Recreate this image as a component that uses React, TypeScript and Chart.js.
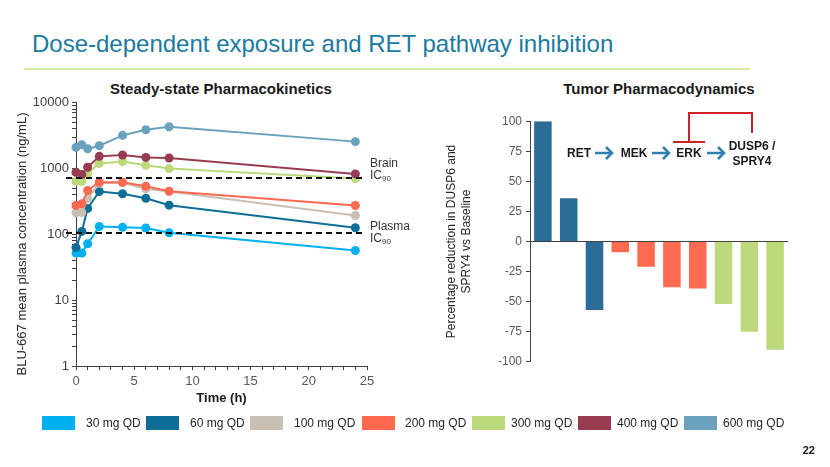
import React, { useEffect, useRef } from 'react';
import { Chart, registerables } from 'chart.js';

Chart.register(...registerables);

const FONT = '"Liberation Sans", Arial, Helvetica, sans-serif';

// ---------- Pharmacokinetics data ----------
const TIME_H = [0, 0.5, 1, 2, 4, 6, 8, 24];
const DOSES = ['30 mg QD', '60 mg QD', '100 mg QD', '200 mg QD', '300 mg QD', '400 mg QD', '600 mg QD'];
const DOSE_COLORS = ['#00b0f0', '#0f6e98', '#c8bfb5', '#ff6950', '#bcd97b', '#973b51', '#6aa1bc'];
const CONC_30 = [52, 52, 72, 132, 128, 125, 106, 57];
const CONC_60 = [63, 111, 248, 448, 414, 355, 278, 126];
const CONC_100 = [213, 215, 348, 600, 610, 492, 450, 194];
const CONC_200 = [275, 292, 464, 620, 620, 540, 453, 275];
const CONC_300 = [642, 642, 849, 1200, 1280, 1120, 1000, 705];
const CONC_400 = [880, 810, 1050, 1535, 1610, 1480, 1450, 830];
const CONC_600 = [2100, 2300, 2000, 2230, 3200, 3900, 4330, 2570];
const CONC_BY_DOSE = [CONC_30, CONC_60, CONC_100, CONC_200, CONC_300, CONC_400, CONC_600];
const BRAIN_IC90 = 730;
const PLASMA_IC90 = 105;
const PK_X_TICKS = [0, 1, 2, 3, 4, 5, 6, 7, 8, 9, 10, 11, 12, 13, 14, 15, 16, 17, 18, 19, 20, 21, 22, 23, 24, 25];
const PK_X_LABELS = [0, 5, 10, 15, 20, 25];
const PK_Y_MAJOR = [1, 10, 100, 1000, 10000];
const PK_Y_TICKS = [
  1, 2, 3, 4, 5, 6, 7, 8, 9,
  10, 20, 30, 40, 50, 60, 70, 80, 90,
  100, 200, 300, 400, 500, 600, 700, 800, 900,
  1000, 2000, 3000, 4000, 5000, 6000, 7000, 8000, 9000,
  10000,
];

// ---------- Pharmacodynamics data ----------
const PD_PATIENTS = ['Pt 1', 'Pt 2', 'Pt 3', 'Pt 4', 'Pt 5', 'Pt 6', 'Pt 7', 'Pt 8', 'Pt 9', 'Pt 10'];
const PD_DOSE = ['60 mg QD', '60 mg QD', '60 mg QD', '200 mg QD', '200 mg QD', '200 mg QD', '200 mg QD', '300 mg QD', '300 mg QD', '300 mg QD'];
const PD_REDUCTION = [100, 36, -57, -9, -21, -38, -39, -52, -75, -90];
const PD_BAR_COLORS: Record<string, string> = {
  '60 mg QD': '#2a6d96',
  '200 mg QD': '#ff6a50',
  '300 mg QD': '#bdd97b',
};
const PD_TICKS = [100, 75, 50, 25, 0, -25, -50, -75, -100];

const AXIS = '#404040';
const TICK_TEXT = '#595959';

const icLinesPlugin = {
  id: 'icLines',
  afterDatasetsDraw(chart: any) {
    const { ctx, chartArea, scales } = chart;
    ctx.save();
    ctx.setLineDash([6, 4]);
    ctx.lineWidth = 2;
    ctx.strokeStyle = '#111111';
    [BRAIN_IC90, PLASMA_IC90].forEach((v) => {
      const y = Math.round(scales.y.getPixelForValue(v));
      ctx.beginPath();
      ctx.moveTo(chartArea.left - 10, y);
      ctx.lineTo(chartArea.right - 3, y);
      ctx.stroke();
    });
    ctx.restore();
  },
};

export default function App() {
  const pkRef = useRef<HTMLCanvasElement>(null);
  const pdRef = useRef<HTMLCanvasElement>(null);

  useEffect(() => {
    document.body.style.margin = '0';
    const pk = new Chart(pkRef.current as HTMLCanvasElement, {
      type: 'line',
      data: {
        datasets: DOSES.map((d, i) => ({
          label: d,
          data: TIME_H.map((t, j) => ({ x: t, y: CONC_BY_DOSE[i][j] })),
          borderColor: DOSE_COLORS[i],
          backgroundColor: DOSE_COLORS[i],
          borderWidth: 2,
          pointRadius: 4.5,
          pointBorderWidth: 0,
          pointHoverRadius: 4.5,
          tension: 0,
          clip: false as any,
          order: DOSES.length - i,
        })),
      },
      options: {
        responsive: false,
        animation: false,
        events: [],
        layout: { padding: { left: 12, top: 10, right: 33, bottom: 0 } },
        plugins: { legend: { display: false }, tooltip: { enabled: false }, title: { display: false } },
        scales: {
          x: {
            type: 'linear',
            min: 0,
            max: 25,
            afterBuildTicks: (s: any) => {
              s.ticks = PK_X_TICKS.map((v) => ({ value: v }));
            },
            afterFit: (s: any) => {
              s.height = 44;
            },
            grid: { display: true, drawOnChartArea: false, drawTicks: true, tickLength: 4, color: AXIS, tickColor: AXIS },
            border: { display: true, color: AXIS, width: 1 },
            ticks: {
              autoSkip: false,
              maxRotation: 0,
              padding: 4,
              color: TICK_TEXT,
              font: { family: FONT, size: 13 },
              callback: (v: any) => (PK_X_LABELS.includes(Number(v)) ? String(v) : ''),
            },
            title: {
              display: true,
              text: 'Time (h)',
              color: '#1a1a1a',
              font: { family: FONT, size: 13, weight: 'bold' },
              padding: { top: 0, bottom: 4 },
            },
          },
          y: {
            type: 'logarithmic',
            min: 1,
            max: 10000,
            afterBuildTicks: (s: any) => {
              s.ticks = PK_Y_TICKS.map((v) => ({ value: v }));
            },
            afterFit: (s: any) => {
              s.width = 64;
            },
            grid: { display: true, drawOnChartArea: false, drawTicks: true, tickLength: 4, color: AXIS, tickColor: AXIS },
            border: { display: true, color: AXIS, width: 1 },
            ticks: {
              autoSkip: false,
              padding: 3,
              color: '#404040',
              font: { family: FONT, size: 13 },
              callback: (v: any) => (PK_Y_MAJOR.includes(Number(v)) ? String(v) : ''),
            },
            title: { display: false },
          },
        },
      } as any,
      plugins: [icLinesPlugin],
    });

    const pd = new Chart(pdRef.current as HTMLCanvasElement, {
      type: 'bar',
      data: {
        labels: PD_PATIENTS,
        datasets: [
          {
            label: 'Reduction',
            data: PD_REDUCTION,
            backgroundColor: PD_DOSE.map((d) => PD_BAR_COLORS[d]),
            borderWidth: 0,
            barPercentage: 0.68,
            categoryPercentage: 1,
          },
        ],
      },
      options: {
        responsive: false,
        animation: false,
        events: [],
        layout: { padding: { left: 0, top: 11, right: 12, bottom: 10 } },
        plugins: { legend: { display: false }, tooltip: { enabled: false } },
        scales: {
          x: { display: false },
          y: {
            min: -100,
            max: 100,
            afterBuildTicks: (s: any) => {
              s.ticks = PD_TICKS.map((v) => ({ value: v }));
            },
            afterFit: (s: any) => {
              s.width = 90;
            },
            grid: {
              display: true,
              drawOnChartArea: true,
              drawTicks: true,
              tickLength: 4,
              lineWidth: 1,
              color: (c: any) => (c.tick && c.tick.value === 0 ? AXIS : 'rgba(0,0,0,0)'),
              tickColor: AXIS,
            },
            border: { display: true, color: AXIS, width: 1 },
            ticks: { autoSkip: false, padding: 4, color: TICK_TEXT, font: { family: FONT, size: 12 } },
            title: {
              display: true,
              text: ['Percentage reduction in DUSP6 and', 'SPRY4 vs Baseline'],
              color: '#262626',
              font: { family: FONT, size: 12, lineHeight: 1.25 },
              padding: { top: 4, bottom: 4 },
            },
          },
        },
      } as any,
    });

    return () => {
      pk.destroy();
      pd.destroy();
    };
  }, []);

  const legendBoxX = [42, 146, 250, 362, 472, 578, 684];
  const legendTextX = [86, 190, 294, 405, 511, 617, 723];

  const pathwayText: React.CSSProperties = {
    position: 'absolute',
    fontFamily: FONT,
    fontWeight: 'bold',
    fontSize: 12,
    lineHeight: '14px',
    color: '#1a1a1a',
    whiteSpace: 'nowrap',
    textAlign: 'center',
  };

  const arrows = [
    [595, 612],
    [652, 669],
    [707, 724],
  ];

  return (
    <div
      style={{
        position: 'fixed',
        left: 0,
        top: 0,
        width: 830,
        height: 467,
        background: '#ffffff',
        overflow: 'hidden',
        fontFamily: FONT,
      }}
    >
      <div
        style={{
          position: 'absolute',
          left: 32,
          top: 30,
          fontSize: 24,
          lineHeight: '28px',
          color: '#1b7aa0',
          whiteSpace: 'nowrap',
        }}
      >
        Dose-dependent exposure and RET pathway inhibition
      </div>
      <div style={{ position: 'absolute', left: 24, top: 68, width: 726, height: 2, background: '#d6eca0' }} />

      <div
        style={{
          position: 'absolute',
          left: 71,
          width: 300,
          top: 80,
          fontSize: 15,
          fontWeight: 'bold',
          lineHeight: '18px',
          textAlign: 'center',
          color: '#1a1a1a',
        }}
      >
        Steady-state Pharmacokinetics
      </div>
      <div
        style={{
          position: 'absolute',
          left: 509,
          width: 300,
          top: 80,
          fontSize: 15,
          fontWeight: 'bold',
          lineHeight: '18px',
          textAlign: 'center',
          color: '#1a1a1a',
        }}
      >
        Tumor Pharmacodynamics
      </div>

      <canvas
        ref={pkRef}
        width={400}
        height={318}
        style={{ position: 'absolute', left: 0, top: 92, width: 400, height: 318 }}
      />
      <div
        style={{
          position: 'absolute',
          left: 22 - 150,
          top: 244 - 8,
          width: 300,
          height: 16,
          lineHeight: '16px',
          fontSize: 13,
          textAlign: 'center',
          color: '#262626',
          transform: 'rotate(-90deg)',
          transformOrigin: '50% 50%',
          whiteSpace: 'nowrap',
        }}
      >
        BLU-667 mean plasma concentration (ng/mL)
      </div>

      <div style={{ position: 'absolute', left: 370, top: 157, fontSize: 12, lineHeight: '12px', color: '#333333' }}>
        Brain
        <br />
        IC<span style={{ fontSize: 8, position: 'relative', top: 2 }}>90</span>
      </div>
      <div style={{ position: 'absolute', left: 370, top: 220, fontSize: 12, lineHeight: '12px', color: '#333333' }}>
        Plasma
        <br />
        IC<span style={{ fontSize: 8, position: 'relative', top: 2 }}>90</span>
      </div>

      <canvas
        ref={pdRef}
        width={360}
        height={263}
        style={{ position: 'absolute', left: 440, top: 110, width: 360, height: 263 }}
      />

      <svg
        width={830}
        height={467}
        style={{ position: 'absolute', left: 0, top: 0, pointerEvents: 'none' }}
      >
        {arrows.map(([x1, x2], i) => (
          <g key={i} stroke="#2e80b0" strokeWidth={2.5} fill="none" strokeLinecap="butt">
            <line x1={x1} y1={153} x2={x2} y2={153} />
            <polyline points={`${x2 - 6},${147} ${x2},${153} ${x2 - 6},${159}`} />
          </g>
        ))}
        <polyline points="752,133 752,113 689,113 689,142" stroke="#d0202a" strokeWidth={2} fill="none" />
        <line x1={673} y1={142} x2={705} y2={142} stroke="#d0202a" strokeWidth={2} />
      </svg>
      <div style={{ ...pathwayText, left: 559, width: 40, top: 146 }}>RET</div>
      <div style={{ ...pathwayText, left: 614, width: 40, top: 146 }}>MEK</div>
      <div style={{ ...pathwayText, left: 669, width: 40, top: 146 }}>ERK</div>
      <div style={{ ...pathwayText, left: 722, width: 60, top: 139, lineHeight: '15px' }}>
        DUSP6 /
        <br />
        SPRY4
      </div>

      {DOSES.map((d, i) => (
        <React.Fragment key={d}>
          <div
            style={{
              position: 'absolute',
              left: legendBoxX[i],
              top: 416,
              width: 33,
              height: 14,
              background: DOSE_COLORS[i],
            }}
          />
          <div
            style={{
              position: 'absolute',
              left: legendTextX[i],
              top: 416,
              fontSize: 12,
              lineHeight: '14px',
              color: '#262626',
              whiteSpace: 'nowrap',
            }}
          >
            {d}
          </div>
        </React.Fragment>
      ))}

      <div
        style={{
          position: 'absolute',
          right: 15,
          top: 443,
          fontSize: 11,
          fontWeight: 'bold',
          lineHeight: '14px',
          color: '#1a1a1a',
        }}
      >
        22
      </div>
    </div>
  );
}
